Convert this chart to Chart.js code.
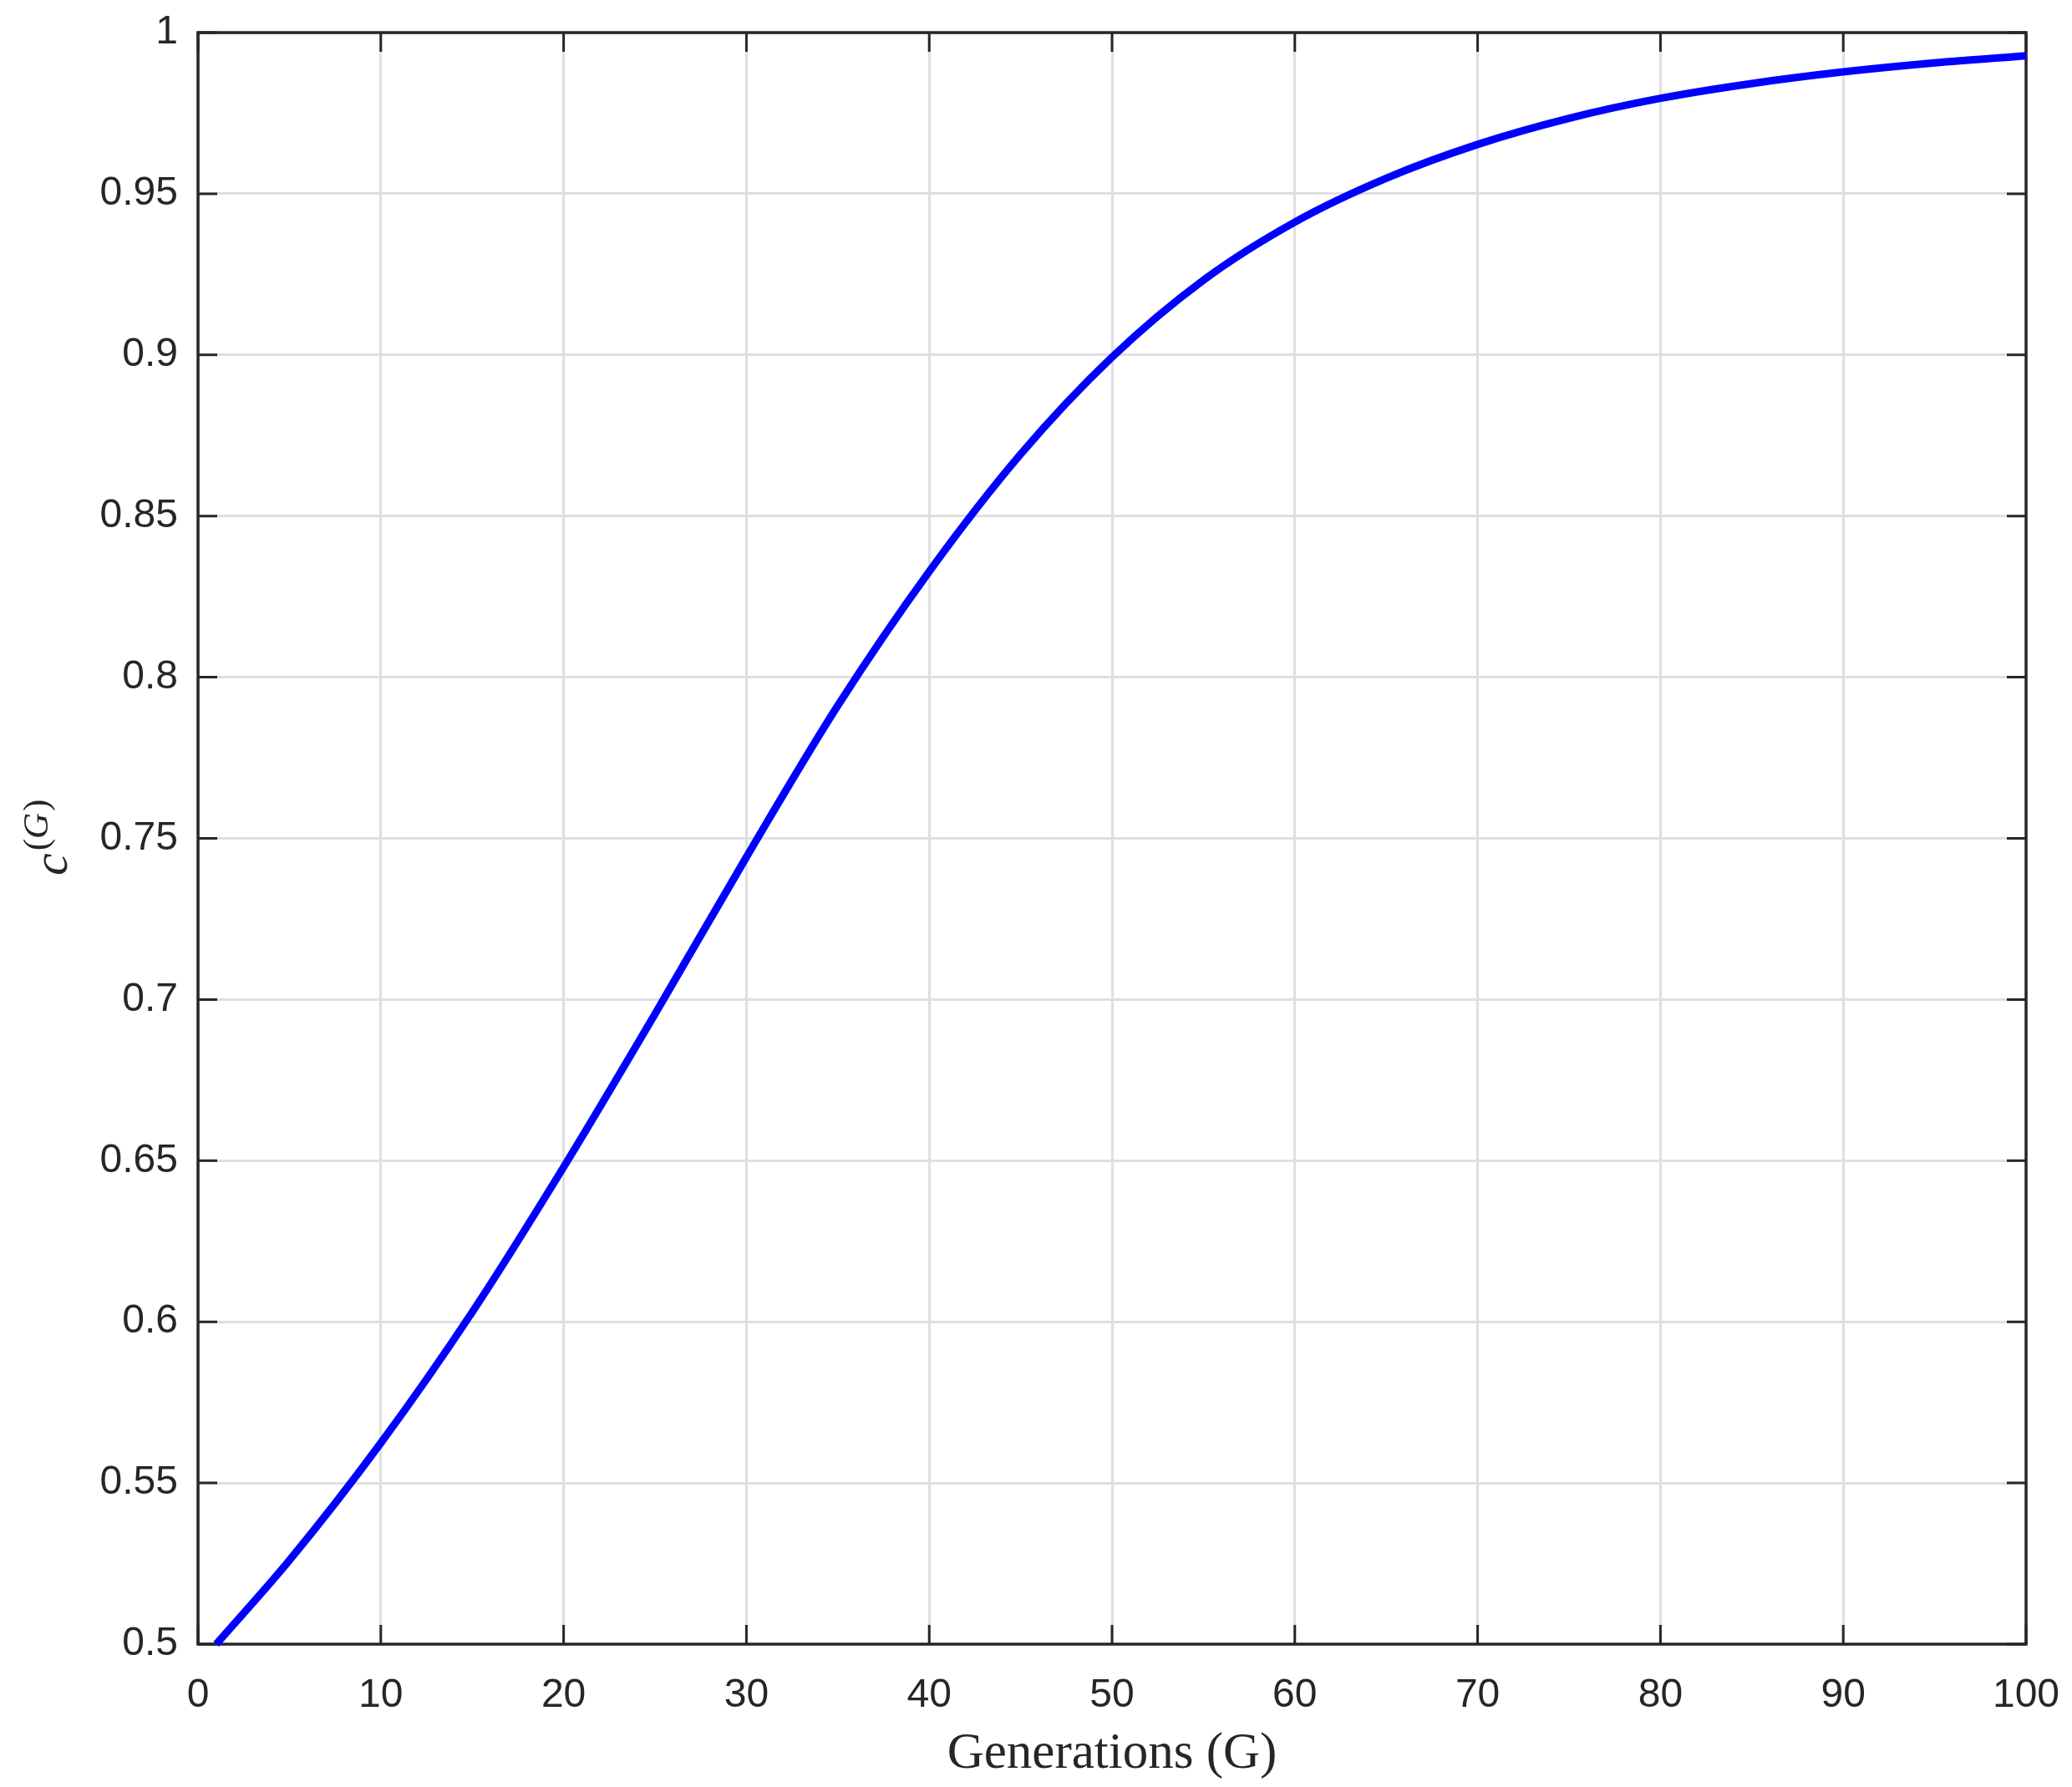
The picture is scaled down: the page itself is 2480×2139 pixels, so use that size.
<!DOCTYPE html>
<html lang="en">
<head>
<meta charset="UTF-8">
<title>c(G) over generations</title>
<script src="https://cdn.jsdelivr.net/npm/chart.js@4.4.1/dist/chart.umd.min.js"></script>
<style>
  body { margin: 0; background: #fff; }
  #wrap { width: 2480px; height: 2139px; }
</style>
</head>
<body>
<div id="wrap"><canvas id="myChart" width="2480" height="2139"></canvas></div>
<script>
// values
const generations = [1, 5, 10, 15, 20, 25, 30, 35, 40, 45, 50, 55, 60, 65, 70, 75, 80, 85, 90, 95, 100];
const cValues = [0.500, 0.526, 0.5624, 0.6030, 0.6480, 0.6955, 0.7442, 0.7912, 0.8328, 0.8692, 0.8993,
                 0.9232, 0.9412, 0.9548, 0.9653, 0.9734, 0.9796, 0.9842, 0.9878, 0.9906, 0.9928];

const xTicks = [0, 10, 20, 30, 40, 50, 60, 70, 80, 90, 100];
const yTicks = [0.5, 0.55, 0.6, 0.65, 0.7, 0.75, 0.8, 0.85, 0.9, 0.95, 1];
const yTickLabels = ['0.5', '0.55', '0.6', '0.65', '0.7', '0.75', '0.8', '0.85', '0.9', '0.95', '1'];

const axisColor = '#262626';
const gridColor = '#dfdfdf';
const tickLen = 23;

// matlab style box with inward ticks on all four sides
const boxAndTicks = {
  id: 'boxAndTicks',
  beforeDatasetsDraw(chart) {
    const { ctx, chartArea: a, scales: { x, y } } = chart;
    ctx.save();
    ctx.strokeStyle = axisColor;
    ctx.lineWidth = 3;
    ctx.beginPath();
    xTicks.forEach(v => {
      const px = x.getPixelForValue(v);
      ctx.moveTo(px, a.bottom); ctx.lineTo(px, a.bottom - tickLen);
      ctx.moveTo(px, a.top); ctx.lineTo(px, a.top + tickLen);
    });
    yTicks.forEach(v => {
      const py = y.getPixelForValue(v);
      ctx.moveTo(a.left, py); ctx.lineTo(a.left + tickLen, py);
      ctx.moveTo(a.right, py); ctx.lineTo(a.right - tickLen, py);
    });
    ctx.stroke();
    ctx.lineWidth = 3.5;
    ctx.strokeRect(a.left, a.top, a.right - a.left, a.bottom - a.top);
    ctx.restore();
  },
  afterDraw(chart) {
    // y label c^(G), rotated
    const { ctx } = chart;
    ctx.save();
    ctx.translate(80, 1048);
    ctx.rotate(-Math.PI / 2);
    ctx.fillStyle = axisColor;
    ctx.textBaseline = 'alphabetic';
    ctx.textAlign = 'left';
    ctx.font = 'italic 60px "Liberation Serif"';
    ctx.fillText('c', 0, 0);
    let cx = ctx.measureText('c').width + 3;
    const sup = -23;
    ctx.font = '43px "Liberation Serif"';
    ctx.fillText('(', cx, sup);
    cx += ctx.measureText('(').width;
    ctx.font = 'italic 43px "Liberation Serif"';
    ctx.fillText('G', cx, sup);
    cx += ctx.measureText('G').width + 2;
    ctx.font = '43px "Liberation Serif"';
    ctx.fillText(')', cx, sup);
    ctx.restore();
  }
};

const chart = new Chart('myChart', {
  type: 'line',
  data: {
    datasets: [{
      data: generations.map((g, i) => ({ x: g, y: cValues[i] })),
      borderColor: '#0000ff',
      borderWidth: 9,
      pointRadius: 0,
      cubicInterpolationMode: 'monotone',
      fill: false,
      clip: false
    }]
  },
  options: {
    responsive: false,
    devicePixelRatio: 1,
    animation: false,
    layout: { padding: { top: 39, right: 55, left: 0, bottom: 0 } },
    plugins: { legend: { display: false }, tooltip: { enabled: false } },
    scales: {
      x: {
        type: 'linear',
        min: 0,
        max: 100,
        afterBuildTicks: s => { s.ticks = xTicks.map(v => ({ value: v })); },
        afterFit: s => { s.height = 171; s.paddingLeft = 0; s.paddingRight = 0; },
        grid: { color: gridColor, lineWidth: 3, drawTicks: false },
        border: { display: false },
        ticks: {
          padding: 33,
          maxRotation: 0,
          color: axisColor,
          font: { family: '"Liberation Sans"', size: 48 }
        },
        title: {
          display: true,
          text: 'Generations (G)',
          color: axisColor,
          font: { family: '"Liberation Serif"', size: 61 },
          padding: { top: 0, bottom: 2 }
        }
      },
      y: {
        type: 'linear',
        min: 0.5,
        max: 1,
        afterBuildTicks: s => { s.ticks = yTicks.map(v => ({ value: v })); },
        afterFit: s => { s.width = 237; s.paddingTop = 0; s.paddingBottom = 0; },
        grid: { color: gridColor, lineWidth: 3, drawTicks: false },
        border: { display: false },
        ticks: {
          padding: 24,
          color: axisColor,
          font: { family: '"Liberation Sans"', size: 48 },
          callback: (v, i) => yTickLabels[i]
        }
      }
    }
  },
  plugins: [boxAndTicks]
});
</script>
</body>
</html>
